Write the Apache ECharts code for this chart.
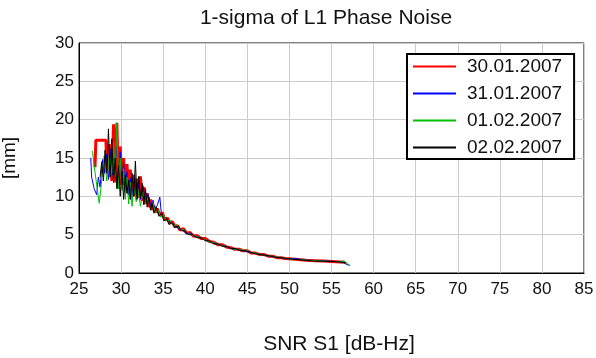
<!DOCTYPE html>
<html>
<head>
<meta charset="utf-8">
<script src="https://cdn.jsdelivr.net/npm/echarts@6/dist/echarts.min.js"></script>
<style>html,body{margin:0;padding:0;background:#fff}#c{width:596px;height:358px}</style>
</head>
<body>
<div id="c"></div>
<script>
const seriesNames = ['30.01.2007', '31.01.2007', '01.02.2007', '02.02.2007'];
const xTicks = [25, 30, 35, 40, 45, 50, 55, 60, 65, 70, 75, 80, 85];
const yTicks = [0, 5, 10, 15, 20, 25, 30];

const red = [[26.9,13.8],[27.0,17.3],[28.2,17.3],[28.3,13.2],[28.6,16.8],[28.9,12.0],[29.1,19.4],[29.3,11.8],[29.5,19.6],[29.7,11.0],[29.9,16.5],[30.1,11.5],[30.3,15.0],[30.5,10.8],[30.7,14.2],[30.9,10.3],[31.1,13.5],[31.3,10.6],[31.5,12.8],[31.7,10.0],[31.9,12.3],[32.1,9.8],[32.3,12.6],[32.5,9.4],[32.7,11.2],[32.9,9.0],[33.1,10.4],[33.3,8.6],[33.5,9.6],[33.7,8.2],[33.9,8.8],[34.1,7.9],[34.3,8.4],[34.6,7.5],[34.9,7.9],[35.2,6.9],[35.5,7.2],[35.8,6.5],[36.1,6.7],[36.4,6.0],[36.7,6.2],[37.0,5.6],[37.4,5.8],[37.8,5.2],[38.2,5.3],[38.6,4.8],[39.0,4.9],[39.5,4.5],[40.0,4.5],[40.5,4.1],[41.0,4.0],[41.5,3.7],[42.0,3.7],[42.5,3.4],[43.0,3.3],[43.5,3.1],[44.0,3.1],[44.5,2.9],[45.0,2.9],[45.5,2.6],[46.0,2.6],[46.5,2.4],[47.0,2.4],[47.5,2.2],[48.0,2.2],[48.5,2.0],[49.0,2.0],[49.5,1.9],[50.0,1.85],[51.0,1.75],[52.0,1.65],[53.0,1.6],[54.0,1.55],[55.0,1.5],[56.0,1.45],[56.6,1.4]];

const blue = [[26.4,15.0],[26.5,12.5],[26.8,11.0],[27.1,10.2],[27.3,12.5],[27.5,11.2],[27.8,14.8],[28.0,13.0],[28.3,15.5],[28.5,12.2],[28.8,16.2],[29.0,12.8],[29.3,14.0],[29.5,16.5],[29.7,12.2],[29.9,15.8],[30.1,11.6],[30.3,14.5],[30.5,10.5],[30.7,13.2],[30.9,10.2],[31.1,12.4],[31.3,9.8],[31.6,12.8],[31.8,10.2],[32.0,11.8],[32.3,9.6],[32.6,11.4],[32.9,9.2],[33.2,10.3],[33.5,8.8],[33.8,9.5],[34.0,8.3],[34.3,8.8],[34.6,9.9],[34.8,7.6],[35.1,7.3],[35.5,7.0],[35.9,6.5],[36.3,6.3],[36.8,5.8],[37.3,5.6],[37.8,5.1],[38.3,5.2],[38.8,4.7],[39.3,4.7],[39.8,4.4],[40.4,4.1],[41.0,3.9],[41.6,3.7],[42.2,3.5],[42.8,3.3],[43.4,3.1],[44.0,3.0],[44.6,2.9],[45.2,2.7],[45.8,2.6],[46.4,2.5],[47.0,2.3],[47.6,2.2],[48.2,2.1],[48.8,2.0],[49.4,1.9],[50.0,1.85],[50.8,1.9],[51.5,1.7],[52.5,1.65],[53.5,1.6],[54.5,1.55],[55.5,1.5],[56.3,1.45],[56.8,1.1],[57.2,1.0]];

const green = [[26.6,15.9],[26.8,14.0],[27.1,11.5],[27.4,9.1],[27.6,11.0],[27.8,13.5],[28.0,15.3],[28.3,12.0],[28.6,15.6],[28.9,13.0],[29.1,17.0],[29.3,12.5],[29.5,19.6],[29.7,11.0],[29.9,15.0],[30.1,10.8],[30.3,13.6],[30.5,9.6],[30.7,12.5],[30.9,9.0],[31.1,11.8],[31.3,8.7],[31.5,11.3],[31.8,9.3],[32.0,11.0],[32.3,8.7],[32.6,10.6],[32.9,9.0],[33.2,9.8],[33.5,8.3],[33.8,9.1],[34.1,7.8],[34.4,8.2],[34.7,7.3],[35.0,7.6],[35.4,6.8],[35.8,6.9],[36.2,6.2],[36.6,6.3],[37.0,5.7],[37.5,5.6],[38.0,5.1],[38.5,5.0],[39.0,4.7],[39.5,4.6],[40.0,4.3],[40.6,4.0],[41.2,3.9],[41.8,3.6],[42.4,3.5],[43.0,3.2],[43.6,3.1],[44.2,3.0],[44.8,3.0],[45.4,2.7],[46.0,2.6],[46.6,2.4],[47.2,2.3],[47.8,2.2],[48.4,2.1],[49.0,2.0],[49.6,1.9],[50.3,1.8],[51.2,1.75],[52.2,1.65],[53.2,1.6],[54.2,1.55],[55.2,1.5],[56.0,1.45],[56.5,1.55],[56.9,1.2],[57.1,1.1]];

const black = [[27.5,12.5],[27.7,14.5],[27.9,12.0],[28.1,16.0],[28.3,13.0],[28.5,18.8],[28.7,12.5],[28.9,17.5],[29.1,11.8],[29.3,15.0],[29.5,11.0],[29.7,14.0],[29.9,10.0],[30.1,13.3],[30.3,9.6],[30.5,12.8],[30.7,10.4],[30.9,12.1],[31.1,9.6],[31.3,13.0],[31.5,10.0],[31.7,14.6],[31.9,9.6],[32.1,12.6],[32.3,9.8],[32.5,11.7],[32.7,8.9],[32.9,11.0],[33.1,8.6],[33.3,9.9],[33.5,8.2],[33.7,9.1],[33.9,7.8],[34.2,8.6],[34.5,7.4],[34.8,7.8],[35.1,6.8],[35.4,7.1],[35.7,6.3],[36.0,6.6],[36.4,5.9],[36.8,6.1],[37.2,5.5],[37.6,5.5],[38.0,5.0],[38.5,5.0],[39.0,4.6],[39.5,4.6],[40.0,4.2],[40.5,4.2],[41.0,3.8],[41.5,3.8],[42.0,3.5],[42.5,3.5],[43.0,3.2],[43.6,3.2],[44.2,2.9],[44.8,2.9],[45.4,2.7],[46.0,2.5],[46.6,2.4],[47.2,2.3],[47.8,2.2],[48.4,2.05],[49.0,2.0],[49.6,1.9],[50.3,1.8],[51.0,1.75],[52.0,1.65],[53.0,1.55],[54.0,1.55],[55.0,1.5],[56.0,1.45],[56.8,1.3]];

const seriesData = [red, blue, green, black];
const colors = ['#ff0000', '#0000ff', '#00c000', '#000000'];
const widths = [3, 1, 1, 1];

const FONT = 'Liberation Sans, Arial, sans-serif';
const chart = echarts.init(document.getElementById('c'), null, {renderer: 'canvas'});
chart.setOption({
  animation: false,
  backgroundColor: '#fff',
  title: {
    text: '1-sigma of L1 Phase Noise',
    left: 326, top: 8, textAlign: 'center', padding: 0,
    textStyle: {fontFamily: FONT, fontSize: 21, fontWeight: 'normal', color: '#111'}
  },
  grid: {left: 79, right: 12, top: 43, bottom: 85, show: true, borderColor: '#000', borderWidth: 1,
         backgroundColor: 'transparent', containLabel: false, outerBoundsMode: 'none'},
  legend: {
    orient: 'vertical', left: 407, top: 54,
    data: seriesNames,
    backgroundColor: '#fff', borderColor: '#000', borderWidth: 2,
    padding: [3, 12, 2, 5], itemGap: 8, itemWidth: 43, itemHeight: 14,
    itemStyle: {opacity: 0},
    textStyle: {fontFamily: FONT, fontSize: 19, color: '#111', padding: [0, 0, 0, 6]}
  },
  xAxis: {
    type: 'value', min: xTicks[0], max: xTicks[xTicks.length - 1], interval: 5,
    name: 'SNR S1 [dB-Hz]', nameLocation: 'middle', nameGap: 61,
    nameTextStyle: {fontFamily: FONT, fontSize: 21, color: '#111', padding: [0, 0, 0, 15]},
    axisLine: {lineStyle: {color: '#000', width: 1}},
    axisTick: {show: false},
    axisLabel: {fontFamily: FONT, fontSize: 17, color: '#111', margin: 8},
    splitLine: {show: true, lineStyle: {color: '#cccccc', width: 1}}
  },
  yAxis: {
    type: 'value', min: yTicks[0], max: yTicks[yTicks.length - 1], interval: 5,
    name: '[mm]', nameLocation: 'middle', nameGap: 60, nameRotate: 90,
    nameTextStyle: {fontFamily: FONT, fontSize: 19, color: '#111'},
    axisLine: {show: true, lineStyle: {color: '#000', width: 1}},
    axisTick: {show: false},
    axisLabel: {fontFamily: FONT, fontSize: 17, color: '#111', margin: 5},
    splitLine: {show: true, lineStyle: {color: '#cccccc', width: 1}}
  },
  series: seriesNames.map((n, i) => ({
    name: n, type: 'line', data: seriesData[i],
    showSymbol: false, symbol: 'none',
    lineStyle: {color: colors[i], width: widths[i]},
    itemStyle: {color: colors[i]},
    z: 2 + i
  }))
});
</script>
</body>
</html>
